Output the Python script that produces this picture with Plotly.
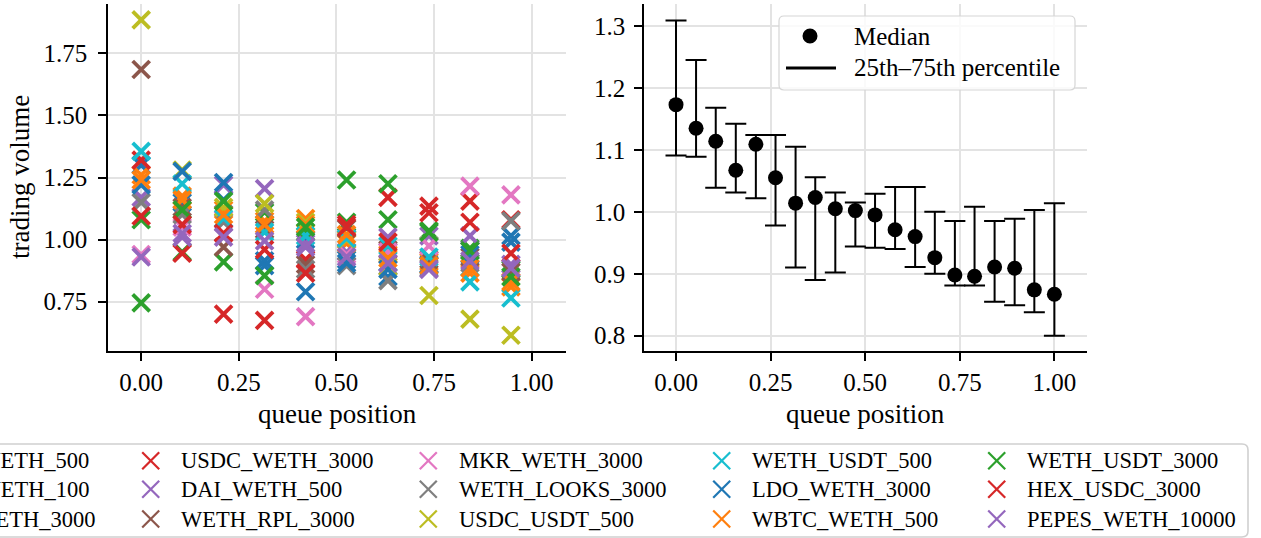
import plotly.graph_objects as go

W, H = 1261, 538
FONT = "Liberation Serif, Times New Roman, DejaVu Serif, serif"

# ---------------- data ----------------
queue_pos_left = [0.000, 0.105, 0.211, 0.316, 0.421, 0.526, 0.632, 0.737, 0.842, 0.947]

pool_names = [
    "USDC_WETH_500", "WSTETH_WETH_100", "WBTC_WETH_3000",
    "USDC_WETH_3000", "DAI_WETH_500", "WETH_RPL_3000",
    "MKR_WETH_3000", "WETH_LOOKS_3000", "USDC_USDT_500",
    "WETH_USDT_500", "LDO_WETH_3000", "WBTC_WETH_500",
    "WETH_USDT_3000", "HEX_USDC_3000", "PEPES_WETH_10000",
]
pool_colors = [
    "#1f77b4", "#ff7f0e", "#2ca02c", "#d62728", "#9467bd",
    "#8c564b", "#e377c2", "#7f7f7f", "#bcbd22", "#17becf",
    "#1f77b4", "#ff7f0e", "#2ca02c", "#d62728", "#9467bd",
]
vol_usdc_weth_500 = [1.30, 1.15, 1.16, 0.915, 1.00, 0.92, 0.85, 0.90, 0.955, 1.015]
vol_wsteth_weth_100 = [1.26, 1.175, 1.12, 1.075, 1.085, 0.985, 0.94, 0.91, 0.865, 0.81]
vol_wbtc_weth_3000 = [1.08, 0.95, 0.91, 1.11, 1.03, 1.07, 1.08, 1.035, 0.965, 0.88]
vol_usdc_weth_3000 = [1.32, 0.945, 0.70, 0.675, 0.92, 1.06, 1.17, 1.135, 1.155, 1.08]
vol_dai_weth_500 = [1.17, 1.01, 1.22, 1.205, 0.985, 0.95, 1.01, 1.015, 1.015, 0.90]
vol_weth_rpl_3000 = [1.685, 1.13, 0.97, 1.04, 0.90, 1.045, 0.96, 0.92, 0.93, 0.87]
vol_mkr_weth_3000 = [0.94, 1.05, 1.08, 0.80, 0.69, 0.94, 0.95, 0.975, 1.215, 1.18]
vol_weth_looks_3000 = [1.15, 1.10, 1.07, 1.12, 0.88, 0.895, 0.835, 0.885, 0.905, 1.075]
vol_usdc_usdt_500 = [1.885, 1.28, 1.13, 1.145, 1.07, 1.00, 0.89, 0.775, 0.68, 0.615]
vol_weth_usdt_500 = [1.355, 1.225, 1.085, 1.03, 1.015, 1.005, 0.975, 0.93, 0.83, 0.765]
vol_ldo_weth_3000 = [1.22, 1.275, 1.23, 0.895, 0.79, 0.905, 0.88, 0.895, 0.94, 0.99]
vol_wbtc_weth_500 = [1.24, 1.16, 1.10, 1.06, 1.06, 1.02, 0.925, 0.895, 0.885, 0.83]
vol_weth_usdt_3000 = [0.745, 1.12, 1.155, 0.855, 1.05, 1.24, 1.225, 1.03, 0.955, 0.85]
vol_hex_usdc_3000 = [1.095, 1.06, 1.025, 0.96, 0.865, 1.05, 0.99, 1.108, 1.07, 0.945]
vol_pepes_weth_10000 = [0.93, 1.025, 1.01, 0.995, 0.97, 0.93, 0.905, 0.88, 0.915, 0.885]

pool_volumes = [
    vol_usdc_weth_500, vol_wsteth_weth_100, vol_wbtc_weth_3000,
    vol_usdc_weth_3000, vol_dai_weth_500, vol_weth_rpl_3000,
    vol_mkr_weth_3000, vol_weth_looks_3000, vol_usdc_usdt_500,
    vol_weth_usdt_500, vol_ldo_weth_3000, vol_wbtc_weth_500,
    vol_weth_usdt_3000, vol_hex_usdc_3000, vol_pepes_weth_10000,
]

queue_pos_right = [0.000, 0.053, 0.105, 0.158, 0.211, 0.263, 0.316, 0.368, 0.421, 0.474,
                   0.526, 0.579, 0.632, 0.684, 0.737, 0.789, 0.842, 0.895, 0.947, 1.000]
median_vol = [1.173, 1.135, 1.114, 1.067, 1.109, 1.055, 1.014, 1.023, 1.005, 1.002,
              0.995, 0.971, 0.960, 0.926, 0.898, 0.896, 0.911, 0.909, 0.874, 0.867]
p75_vol = [1.309, 1.245, 1.168, 1.142, 1.124, 1.124, 1.105, 1.056, 1.031, 1.015,
           1.029, 1.040, 1.040, 1.000, 0.985, 1.008, 0.985, 0.989, 1.003, 1.014]
p25_vol = [1.091, 1.089, 1.039, 1.031, 1.022, 0.978, 0.910, 0.890, 0.902, 0.944,
           0.942, 0.940, 0.911, 0.900, 0.881, 0.881, 0.855, 0.849, 0.838, 0.800]

x_ticks = [0.0, 0.25, 0.5, 0.75, 1.0]
y_ticks_left = [0.75, 1.00, 1.25, 1.50, 1.75]
y_ticks_right = [0.8, 0.9, 1.0, 1.1, 1.2, 1.3]


# ---------------- helpers (window pixel -> paper) ----------------
def X(px):
    return px / W


def Y(py):
    return 1 - py / H


def rounded_rect(x0, y0, x1, y1, r):
    return (f"M {X(x0 + r)},{Y(y0)} L {X(x1 - r)},{Y(y0)} Q {X(x1)},{Y(y0)} {X(x1)},{Y(y0 + r)} "
            f"L {X(x1)},{Y(y1 - r)} Q {X(x1)},{Y(y1)} {X(x1 - r)},{Y(y1)} "
            f"L {X(x0 + r)},{Y(y1)} Q {X(x0)},{Y(y1)} {X(x0)},{Y(y1 - r)} "
            f"L {X(x0)},{Y(y0 + r)} Q {X(x0)},{Y(y0)} {X(x0 + r)},{Y(y0)} Z")


fig = go.Figure()

# left scatter
for name, col, vals in zip(pool_names, pool_colors, pool_volumes):
    fig.add_trace(go.Scatter(
        x=queue_pos_left, y=vals, mode="markers", name=name,
        marker=dict(symbol="x-thin", size=17, color=col, line=dict(color=col, width=3.8)),
        xaxis="x", yaxis="y", showlegend=False,
    ))

# right median + IQR
err_up = [u - m for u, m in zip(p75_vol, median_vol)]
err_dn = [m - l for m, l in zip(median_vol, p25_vol)]
fig.add_trace(go.Scatter(
    x=queue_pos_right, y=median_vol, mode="markers", name="Median",
    marker=dict(symbol="circle", size=15, color="black"),
    error_y=dict(type="data", symmetric=False, array=err_up, arrayminus=err_dn,
                 color="black", thickness=2, width=10.5),
    xaxis="x2", yaxis="y2", showlegend=False,
))

axis_common = dict(
    showline=True, linecolor="black", linewidth=1.6, mirror=False,
    ticks="outside", ticklen=8, tickwidth=1.6, tickcolor="black",
    showgrid=True, gridcolor="#e3e3e3", gridwidth=1.5, zeroline=False,
    tickfont=dict(family=FONT, size=25, color="black"),
)

fig.update_layout(
    width=W, height=H,
    margin=dict(l=0, r=0, t=0, b=0),
    paper_bgcolor="white", plot_bgcolor="white",
    showlegend=False,
    xaxis=dict(domain=[X(108), X(566)], range=[-0.085, 1.088], anchor="y",
               tickvals=x_ticks, tickformat=".2f", **axis_common),
    yaxis=dict(domain=[Y(351), Y(4)], range=[0.5515, 1.9486], anchor="x",
               tickvals=y_ticks_left, tickformat=".2f", ticklabelstandoff=6, **axis_common),
    xaxis2=dict(domain=[X(644), X(1087)], range=[-0.0846, 1.0862], anchor="y2",
                tickvals=x_ticks, tickformat=".2f", **axis_common),
    yaxis2=dict(domain=[Y(351), Y(4)], range=[0.7753, 1.3355], anchor="x2",
                tickvals=y_ticks_right, tickformat=".1f", ticklabelstandoff=4, **axis_common),
)

annotations = []
shapes = []

# axis titles
title_font = dict(family=FONT, size=27, color="black")
annotations.append(dict(text="queue position", x=X(337), y=Y(414), xref="paper", yref="paper",
                        showarrow=False, xanchor="center", yanchor="middle", font=title_font))
annotations.append(dict(text="queue position", x=X(865), y=Y(414), xref="paper", yref="paper",
                        showarrow=False, xanchor="center", yanchor="middle", font=title_font))
annotations.append(dict(text="trading volume", x=X(20), y=Y(177), xref="paper", yref="paper",
                        showarrow=False, xanchor="center", yanchor="middle", textangle=-90,
                        font=title_font))

# right-panel legend
shapes.append(dict(type="path", path=rounded_rect(779, 16, 1075, 90, 5), xref="paper", yref="paper",
                   line=dict(color="#d6d6d6", width=1.2), fillcolor="rgba(255,255,255,0.8)",
                   layer="above"))
shapes.append(dict(type="circle", xref="paper", yref="paper",
                   x0=X(810 - 7.5), x1=X(810 + 7.5), y0=Y(36 + 7.5), y1=Y(36 - 7.5),
                   fillcolor="black", line=dict(color="black", width=0), layer="above"))
shapes.append(dict(type="line", xref="paper", yref="paper",
                   x0=X(786), x1=X(836), y0=Y(68), y1=Y(68),
                   line=dict(color="black", width=3.2), layer="above"))
leg_font = dict(family=FONT, size=25, color="black")
annotations.append(dict(text="Median", x=X(852), y=Y(36), xref="paper", yref="paper",
                        showarrow=False, xanchor="left", yanchor="middle", font=leg_font))
annotations.append(dict(text="25th\u201375th percentile", x=X(852), y=Y(68), xref="paper", yref="paper",
                        showarrow=False, xanchor="left", yanchor="middle", font=leg_font))

# bottom legend (cut at the left edge, as in the reference)
shapes.append(dict(type="path", path=rounded_rect(-160, 444, 1248, 537, 6), xref="paper", yref="paper",
                   line=dict(color="#d0d0d0", width=1.6), fillcolor="white", layer="above"))
col_marker_x = [-127, 150.7, 428.3, 721.7, 996.7]
col_text_x = [-99, 179, 456.7, 750, 1025]
row_y = [460.7, 489.3, 519.0]
col1_text_end = [90.7, 90.7, 96.7]
bl_font = dict(family=FONT, size=22.5, color="black")
for i, (name, col) in enumerate(zip(pool_names, pool_colors)):
    c, r = divmod(i, 3)
    cx, cy = col_marker_x[c], row_y[r]
    s = 8.5
    for (a, b, d, e) in [(-s, -s, s, s), (-s, s, s, -s)]:
        shapes.append(dict(type="line", xref="paper", yref="paper",
                           x0=X(cx + a), y0=Y(cy + b), x1=X(cx + d), y1=Y(cy + e),
                           line=dict(color=col, width=2.2), layer="above"))
    if c == 0:
        annotations.append(dict(text=name, x=X(col1_text_end[r]), y=Y(cy), xref="paper", yref="paper",
                                showarrow=False, xanchor="right", yanchor="middle", font=bl_font))
    else:
        annotations.append(dict(text=name, x=X(col_text_x[c]), y=Y(cy), xref="paper", yref="paper",
                                showarrow=False, xanchor="left", yanchor="middle", font=bl_font))

fig.update_layout(annotations=annotations, shapes=shapes)
# remove the default 8 px page margin so the figure fills the window exactly
fig.write_html("out.html", config={"displayModeBar": False},
               post_script="document.body.style.margin='0px';")
